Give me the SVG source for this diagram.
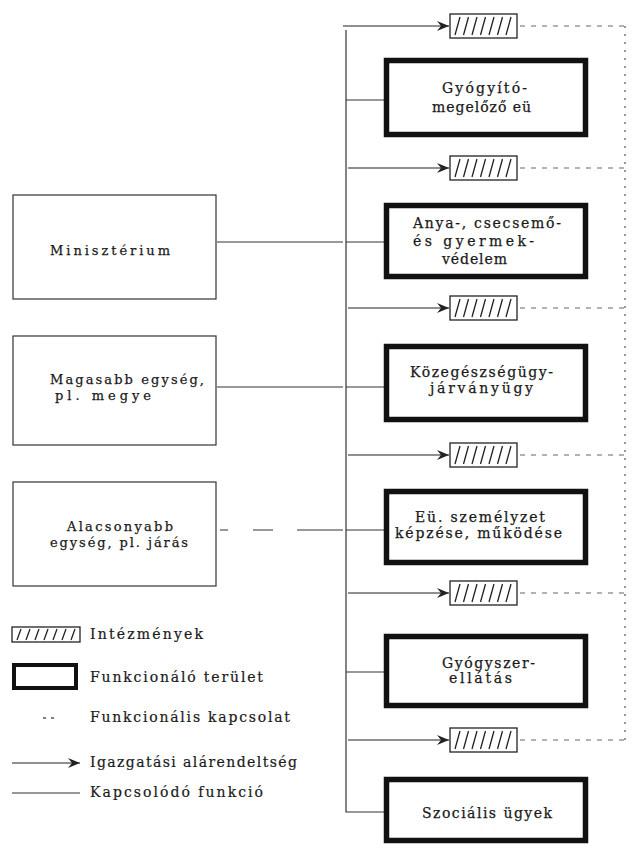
<svg xmlns="http://www.w3.org/2000/svg" width="633" height="851" viewBox="0 0 633 851">
<style>
  .bg{fill:#fff}
  .t{font-family:"DejaVu Serif","Liberation Serif",serif;font-size:13px;fill:#1a1a1a;stroke:#1a1a1a;stroke-width:0.25}
  .ft{font-family:"DejaVu Serif","Liberation Serif",serif;font-size:14px;fill:#1a1a1a;stroke:#1a1a1a;stroke-width:0.25}
  .lt{font-family:"DejaVu Serif","Liberation Serif",serif;font-size:14px;fill:#1a1a1a;stroke:#1a1a1a;stroke-width:0.2}
  .lbox{fill:#fff;stroke:#333;stroke-width:1.2}
  .fbox{fill:#fff;stroke:#111;stroke-width:5.5}
  .ibox{fill:#fff;stroke:#222;stroke-width:1.3}
  .hatch{stroke:#222;stroke-width:1.3}
  .solid{fill:none;stroke:#333;stroke-width:1.2}
  .arr{fill:none;stroke:#222;stroke-width:1.2;marker-end:url(#ah)}
  .dash{fill:none;stroke:#666;stroke-width:1.2;stroke-dasharray:5 6}
  .dot{fill:none;stroke:#666;stroke-width:1.3;stroke-dasharray:2 6}
</style>
<defs>
  <marker id="ah" markerUnits="userSpaceOnUse" markerWidth="14" markerHeight="12" refX="12" refY="5" orient="auto">
    <path d="M0,0 L12,5 L0,10 L4,5 Z" fill="#222"/>
  </marker>
  <g id="inst">
    <rect class="ibox" x="0" y="0" width="67" height="24"/>
    <path class="hatch" d="M5,21 L10,3 M13.5,21 L18.5,3 M22,21 L27,3 M30.5,21 L35.5,3 M39,21 L44,3 M47.5,21 L52.5,3 M56,21 L61,3"/>
  </g>
</defs>
<rect class="bg" width="633" height="851"/>

<g id="connectors">
  <path class="solid" d="M346,30 V812 H384"/>
  <path class="arr" d="M343,26 H449"/>
  <path class="arr" d="M348,168 H449"/>
  <path class="arr" d="M348,308 H449"/>
  <path class="arr" d="M348,455 H449"/>
  <path class="arr" d="M348,593 H449"/>
  <path class="arr" d="M348,740 H449"/>
  <path class="solid" d="M346,100 H384"/>
  <path class="solid" d="M346,242 H384"/>
  <path class="solid" d="M346,387 H384"/>
  <path class="solid" d="M346,530 H384"/>
  <path class="solid" d="M346,672 H384"/>
  <path class="solid" d="M217,242 H343"/>
  <path class="solid" d="M217,387 H343"/>
  <path class="solid" d="M220,530 H228 M253,530 H273 M297,530 H343"/>
  <path class="dash" d="M520,26 H624"/>
  <path class="dash" d="M520,168 H624"/>
  <path class="dash" d="M520,308 H624"/>
  <path class="dash" d="M520,455 H624"/>
  <path class="dash" d="M520,593 H624"/>
  <path class="dash" d="M520,740 H624"/>
  <path class="dot" d="M625,26 V740"/>
</g>

<g id="ministerium">
  <rect class="lbox" x="13" y="195" width="203" height="104"/>
  <text class="t" x="50" y="255" textLength="120" lengthAdjust="spacing">Minisztérium</text>
</g>
<g id="magasabb">
  <rect class="lbox" x="13" y="336" width="203" height="109"/>
  <text class="t" x="50" y="384" textLength="154" lengthAdjust="spacing">Magasabb egység,</text>
  <text class="t" x="55" y="400" textLength="96" lengthAdjust="spacing">pl. megye</text>
</g>
<g id="alacsonyabb">
  <rect class="lbox" x="13" y="482" width="203" height="104"/>
  <text class="t" x="67" y="531" textLength="106" lengthAdjust="spacing">Alacsonyabb</text>
  <text class="t" x="50" y="547" textLength="138" lengthAdjust="spacing">egység, pl. járás</text>
</g>

<g id="inst1"><use href="#inst" x="450" y="14"/></g>
<g id="inst2"><use href="#inst" x="450" y="156"/></g>
<g id="inst3"><use href="#inst" x="450" y="296"/></g>
<g id="inst4"><use href="#inst" x="450" y="443"/></g>
<g id="inst5"><use href="#inst" x="450" y="581"/></g>
<g id="inst6"><use href="#inst" x="450" y="728"/></g>

<g id="gyogyito">
  <rect class="fbox" x="386.5" y="60.5" width="199" height="74"/>
  <text class="ft" x="442" y="93" textLength="85" lengthAdjust="spacing">Gyógyító-</text>
  <text class="ft" x="432" y="112" textLength="99" lengthAdjust="spacing">megelőző eü</text>
</g>
<g id="anya">
  <rect class="fbox" x="386.5" y="205.5" width="199" height="71"/>
  <text class="ft" x="413" y="228" textLength="148" lengthAdjust="spacing">Anya-, csecsemő-</text>
  <text class="ft" x="413" y="246" textLength="121" lengthAdjust="spacing">és gyermek-</text>
  <text class="ft" x="442" y="264" textLength="65" lengthAdjust="spacing">védelem</text>
</g>
<g id="kozegeszseg">
  <rect class="fbox" x="386.5" y="346.5" width="199" height="73"/>
  <text class="ft" x="410" y="377" textLength="143" lengthAdjust="spacing">Közegészségügy-</text>
  <text class="ft" x="430" y="393" textLength="103" lengthAdjust="spacing">járványügy</text>
</g>
<g id="szemelyzet">
  <rect class="fbox" x="386.5" y="491.5" width="199" height="71"/>
  <text class="ft" x="415" y="522" textLength="130" lengthAdjust="spacing">Eü. személyzet</text>
  <text class="ft" x="395" y="538" textLength="167" lengthAdjust="spacing">képzése, működése</text>
</g>
<g id="gyogyszer">
  <rect class="fbox" x="386.5" y="636.5" width="199" height="69"/>
  <text class="ft" x="442" y="668" textLength="93" lengthAdjust="spacing">Gyógyszer-</text>
  <text class="ft" x="449" y="683" textLength="63" lengthAdjust="spacing">ellátás</text>
</g>
<g id="szocialis">
  <rect class="fbox" x="386.5" y="779.5" width="199" height="61"/>
  <text class="ft" x="422" y="818" textLength="130" lengthAdjust="spacing">Szociális ügyek</text>
</g>

<g id="legend">
  <rect class="ibox" x="12" y="627" width="68" height="15"/>
  <path class="hatch" d="M17,640 L21,629 M26,640 L30,629 M35,640 L39,629 M44,640 L48,629 M53,640 L57,629 M62,640 L66,629 M71,640 L75,629"/>
  <text class="lt" x="90" y="639" textLength="113" lengthAdjust="spacing">Intézmények</text>
  <rect x="14" y="665" width="62" height="23" fill="#fff" stroke="#111" stroke-width="4"/>
  <text class="lt" x="90" y="682" textLength="173" lengthAdjust="spacing">Funkcionáló terület</text>
  <path d="M43,718 H46 M51,718 H54" fill="none" stroke="#555" stroke-width="1.3"/>
  <text class="lt" x="90" y="722" textLength="200" lengthAdjust="spacing">Funkcionális kapcsolat</text>
  <path class="arr" d="M12,763 H80"/>
  <text class="lt" x="90" y="767" textLength="207" lengthAdjust="spacing">Igazgatási alárendeltség</text>
  <path class="solid" d="M12,793 H80"/>
  <text class="lt" x="90" y="797" textLength="173" lengthAdjust="spacing">Kapcsolódó funkció</text>
</g>
</svg>
